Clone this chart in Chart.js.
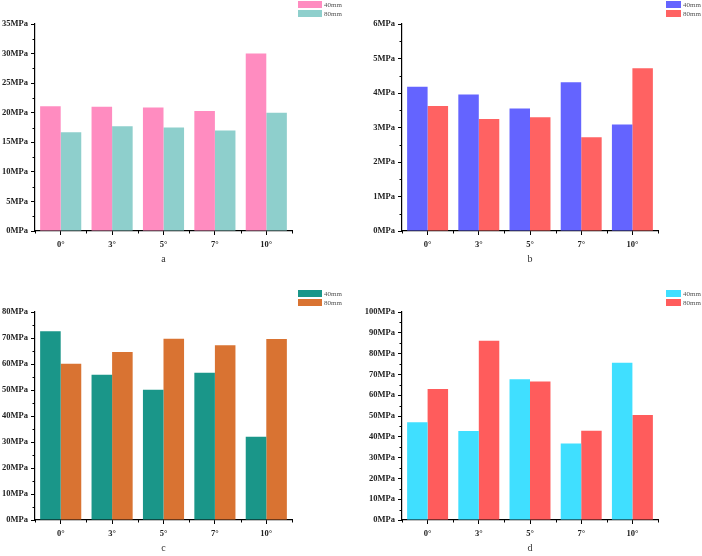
<!DOCTYPE html>
<html>
<head>
<meta charset="utf-8">
<script src="https://cdn.jsdelivr.net/npm/chart.js@4.4.1/dist/chart.umd.min.js"></script>
<style>
  html, body { margin: 0; padding: 0; background: #fff; }
  #wrap { position: relative; width: 702px; height: 556px; }
  .panel { position: absolute; width: 351px; height: 278px; }
</style>
</head>
<body>
<div id="wrap">
  <div class="panel" style="left:0;top:0"><canvas id="chartA" width="351" height="278"></canvas></div>
  <div class="panel" style="left:351px;top:0"><canvas id="chartB" width="351" height="278"></canvas></div>
  <div class="panel" style="left:0;top:278px"><canvas id="chartC" width="351" height="278"></canvas></div>
  <div class="panel" style="left:351px;top:278px"><canvas id="chartD" width="351" height="278"></canvas></div>
</div>
<script>
var categories = ['0°', '3°', '5°', '7°', '10°'];
var seriesNames = ['40mm', '80mm'];

var a40 = [21.1, 21.0, 20.9, 20.3, 30.0];
var a80 = [16.7, 17.7, 17.5, 17.0, 20.0];
var b40 = [4.18, 3.96, 3.55, 4.31, 3.09];
var b80 = [3.62, 3.25, 3.30, 2.72, 4.72];
var c40 = [72.6, 55.9, 50.1, 56.6, 32.0];
var c80 = [60.1, 64.6, 69.7, 67.2, 69.6];
var d40 = [47.0, 42.8, 67.7, 36.8, 75.6];
var d80 = [63.0, 86.2, 66.6, 42.9, 50.5];

var serif = "'Liberation Serif', 'Times New Roman', serif";

// small legend + minor ticks, drawn after the chart
var extras = {
  id: 'extras',
  afterDraw: function(chart) {
    var ctx = chart.ctx;
    var o = chart.options.plugins.extras;
    var x = chart.scales.x, y = chart.scales.y;
    ctx.save();
    ctx.strokeStyle = '#000';
    ctx.lineWidth = 1;
    // minor y ticks
    for (var i = 0; i < y.ticks.length - 1; i++) {
      var p = Math.round((y.getPixelForValue(y.ticks[i].value) + y.getPixelForValue(y.ticks[i + 1].value)) / 2) + 0.5;
      ctx.beginPath();
      ctx.moveTo(y.right - 2.5, p);
      ctx.lineTo(y.right, p);
      ctx.stroke();
    }
    // minor x ticks at category boundaries
    for (var j = 0; j <= categories.length; j++) {
      var px;
      if (j == 0) px = x.left;
      else if (j == categories.length) px = x.right;
      else px = (x.getPixelForValue(j - 1) + x.getPixelForValue(j)) / 2;
      px = Math.round(px) + 0.5;
      ctx.beginPath();
      ctx.moveTo(px, x.top);
      ctx.lineTo(px, x.top + 2.5);
      ctx.stroke();
    }
    // legend
    ctx.font = '7px ' + serif;
    ctx.textBaseline = 'middle';
    chart.data.datasets.forEach(function(ds, k) {
      var ly = o.legendY + k * 9;
      ctx.fillStyle = ds.backgroundColor;
      ctx.fillRect(o.legendX, ly, o.boxW, 7);
      ctx.fillStyle = '#555';
      ctx.fillText(ds.label, o.legendX + o.boxW + 2, ly + 4);
    });
    ctx.restore();
  }
};

function makeChart(id, v40, v80, col40, col80, yMax, step, cfg) {
  new Chart(document.getElementById(id), {
    type: 'bar',
    data: {
      labels: categories,
      datasets: [
        { label: seriesNames[0], data: v40, backgroundColor: col40, categoryPercentage: 0.8, barPercentage: 1.0 },
        { label: seriesNames[1], data: v80, backgroundColor: col80, categoryPercentage: 0.8, barPercentage: 1.0 }
      ]
    },
    options: {
      responsive: false,
      animation: false,
      layout: { padding: { top: cfg.top, right: cfg.right, bottom: cfg.bottom, left: 0 } },
      plugins: {
        legend: { display: false },
        tooltip: { enabled: false },
        extras: { legendX: cfg.legendX, legendY: cfg.legendY, boxW: cfg.boxW }
      },
      scales: {
        x: {
          grid: { display: true, drawOnChartArea: false, offset: false, tickLength: 4, tickColor: '#000', tickWidth: 1 },
          border: { color: '#000', width: 1.2 },
          ticks: { color: '#222', padding: 5, font: { family: serif, size: 8.5, weight: 'bold' } },
          title: { display: true, text: cfg.letter, color: '#333', padding: 0, font: { family: serif, size: 10 } },
          afterFit: function(s) { s.height = 34; }
        },
        y: {
          min: 0,
          max: yMax,
          grid: { display: true, drawOnChartArea: false, tickLength: 4, tickColor: '#000', tickWidth: 1 },
          border: { color: '#000', width: 1.2 },
          ticks: {
            stepSize: step,
            padding: 3,
            color: '#222',
            font: { family: serif, size: 8.5, weight: 'bold' },
            callback: function(v) { return v + 'MPa'; }
          },
          afterFit: function(s) { s.width = cfg.yWidth; }
        }
      }
    },
    plugins: [extras]
  });
}

makeChart('chartA', a40, a80, '#FF8CC0', '#8ECFCC', 35, 5,
  { top: 24, right: 59, bottom: 13, yWidth: 35, letter: 'a', legendX: 298, legendY: 1, boxW: 24 });
makeChart('chartB', b40, b80, '#6464FF', '#FF6262', 6, 1,
  { top: 24, right: 44, bottom: 13, yWidth: 51, letter: 'b', legendX: 315, legendY: 1, boxW: 15 });
makeChart('chartC', c40, c80, '#1A9689', '#D97332', 80, 10,
  { top: 34, right: 59, bottom: 2, yWidth: 35, letter: 'c', legendX: 298, legendY: 12, boxW: 24 });
makeChart('chartD', d40, d80, '#40DFFF', '#FF5C5C', 100, 10,
  { top: 34, right: 44, bottom: 2, yWidth: 51, letter: 'd', legendX: 315, legendY: 12, boxW: 15 });
</script>
</body>
</html>
